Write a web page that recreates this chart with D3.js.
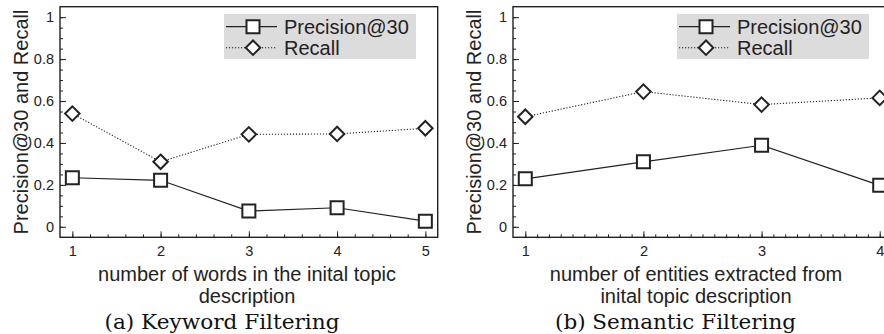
<!DOCTYPE html>
<html>
<head>
<meta charset="utf-8">
<script src="https://cdn.jsdelivr.net/npm/d3@7"></script>
<style>
  html, body { margin: 0; padding: 0; background: #fff; }
  svg { display: block; }
  .sans { font-family: "Liberation Sans", Arial, sans-serif; fill: #222; }
  .serif { font-family: "DejaVu Serif", serif; fill: #111; }
</style>
</head>
<body>
<svg id="viz" width="884" height="334"></svg>
<script>
const keywordCategories = [1, 2, 3, 4, 5]
const keywordPrecision = [0.234, 0.222, 0.075, 0.091, 0.027]
const keywordRecall = [0.54, 0.31, 0.441, 0.443, 0.47]

const semanticCategories = [1, 2, 3, 4]
const semanticPrecision = [0.229, 0.31, 0.389, 0.198]
const semanticRecall = [0.525, 0.645, 0.583, 0.615]

const yTickValues = [0, 0.2, 0.4, 0.6, 0.8, 1]
const yTickLabels = ["0", "0.2", "0.4", "0.6", "0.8", "1"]
const seriesNames = ["Precision@30", "Recall"]
const yLabel = "Precision@30 and Recall"

const ink = "#222"

const squarePath = s => `M${-s / 2},${-s / 2}h${s}v${s}h${-s}Z`
const diamondPath = s => `M0,${-s / 2}L${s / 2},0L0,${s / 2}L${-s / 2},0Z`

const drawMarker = (g, kind, x, y) => g.append("path")
  .attr("transform", `translate(${x},${y})`)
  .attr("d", kind === "square" ? squarePath(13) : diamondPath(14.5))
  .attr("fill", "#fff")
  .attr("stroke", ink)
  .attr("stroke-width", 2)

const drawPanel = ({ svg, left, right, xDomain, categories, precision, recall, minorStep, xLabelLines, xLabelCenter, caption, captionCenter, captionWidth, legendX }) => {
  const top = 6.7, bottom = 237.3

  const x = d3.scaleLinear().domain(xDomain).range([left, right])
  const y = d3.scaleLinear().domain([-0.05, 1.05]).range([bottom, top])

  const g = svg.append("g")

  // frame
  g.append("rect")
    .attr("x", left).attr("y", top)
    .attr("width", right - left).attr("height", bottom - top)
    .attr("fill", "none").attr("stroke", ink).attr("stroke-width", 1.4)

  // y axis, ticks point inward
  const yMinor = d3.range(0, 1.0001, 0.05)
  g.append("g")
    .attr("transform", `translate(${left},0)`)
    .call(d3.axisLeft(y).tickValues(yMinor).tickSize(-3).tickFormat(""))
    .call(a => a.select(".domain").remove())
    .selectAll("line").attr("stroke", ink)

  g.append("g")
    .attr("transform", `translate(${left},0)`)
    .call(d3.axisLeft(y).tickValues(yTickValues).tickSize(-6).tickPadding(6)
      .tickFormat((d, i) => yTickLabels[i]))
    .call(a => a.select(".domain").remove())
    .call(a => a.selectAll("line").attr("stroke", ink))
    .call(a => a.selectAll("text").attr("class", "sans").attr("font-size", 14.5).attr("fill", ink))

  // x axis
  const xMinor = d3.range(1, xDomain[1], minorStep)
  g.append("g")
    .attr("transform", `translate(0,${bottom})`)
    .call(d3.axisBottom(x).tickValues(xMinor).tickSize(-3).tickFormat(""))
    .call(a => a.select(".domain").remove())
    .selectAll("line").attr("stroke", ink)

  g.append("g")
    .attr("transform", `translate(0,${bottom})`)
    .call(d3.axisBottom(x).tickValues(categories).tickSize(-6).tickPadding(8).tickFormat(d3.format("d")))
    .call(a => a.select(".domain").remove())
    .call(a => a.selectAll("line").attr("stroke", ink))
    .call(a => a.selectAll("text").attr("class", "sans").attr("font-size", 14.5).attr("fill", ink))

  const line = d3.line()
    .x((d, i) => x(categories[i]))
    .y(d => y(d))

  g.append("path")
    .attr("d", line(recall))
    .attr("fill", "none").attr("stroke", ink).attr("stroke-width", 1.1)
    .attr("stroke-dasharray", "1.2,1.8")

  g.append("path")
    .attr("d", line(precision))
    .attr("fill", "none").attr("stroke", ink).attr("stroke-width", 1.2)

  recall.forEach((d, i) => drawMarker(g, "diamond", x(categories[i]), y(d)))
  precision.forEach((d, i) => drawMarker(g, "square", x(categories[i]), y(d)))

  // legend
  const lg = g.append("g").attr("transform", `translate(${legendX},14)`)
  lg.append("rect").attr("width", 192).attr("height", 45).attr("fill", "#dcdcdc")
  seriesNames.forEach((name, i) => {
    const ly = 12.7 + i * 21
    lg.append("line")
      .attr("x1", 2).attr("x2", 53).attr("y1", ly).attr("y2", ly)
      .attr("stroke", ink).attr("stroke-width", i === 0 ? 1.2 : 1.1)
      .attr("stroke-dasharray", i === 0 ? null : "1.2,1.8")
    drawMarker(lg, i === 0 ? "square" : "diamond", 29, ly)
    lg.append("text")
      .attr("class", "sans")
      .attr("x", 60).attr("y", ly + 7.2)
      .attr("font-size", 20)
      .text(name)
  })

  // labels
  g.append("text")
    .attr("class", "sans")
    .attr("transform", `translate(${left - 32},${(top + bottom) / 2}) rotate(-90)`)
    .attr("text-anchor", "middle")
    .attr("font-size", 20)
    .text(yLabel)

  xLabelLines.forEach((t, i) => g.append("text")
    .attr("class", "sans")
    .attr("x", xLabelCenter).attr("y", 281 + i * 21.5)
    .attr("text-anchor", "middle")
    .attr("font-size", 20)
    .text(t))

  g.append("text")
    .attr("class", "serif")
    .attr("x", captionCenter).attr("y", 328.5)
    .attr("text-anchor", "middle")
    .attr("font-size", 19.5)
    .attr("textLength", captionWidth)
    .attr("lengthAdjust", "spacingAndGlyphs")
    .text(caption)
}

const svg = d3.select("#viz")

drawPanel({
  svg, left: 60, right: 437.7, xDomain: [0.86, 5.14],
  categories: keywordCategories, precision: keywordPrecision, recall: keywordRecall,
  minorStep: 0.2,
  xLabelLines: ["number of words in the inital topic", "description"], xLabelCenter: 247,
  caption: "(a) Keyword Filtering", captionCenter: 222, captionWidth: 235, legendX: 224
})

drawPanel({
  svg, left: 513, right: 892, xDomain: [0.896, 4.104],
  categories: semanticCategories, precision: semanticPrecision, recall: semanticRecall,
  minorStep: 0.1,
  xLabelLines: ["number of entities extracted from", "inital topic description"], xLabelCenter: 696,
  caption: "(b) Semantic Filtering", captionCenter: 675.5, captionWidth: 241, legendX: 677
})
</script>
</body>
</html>
